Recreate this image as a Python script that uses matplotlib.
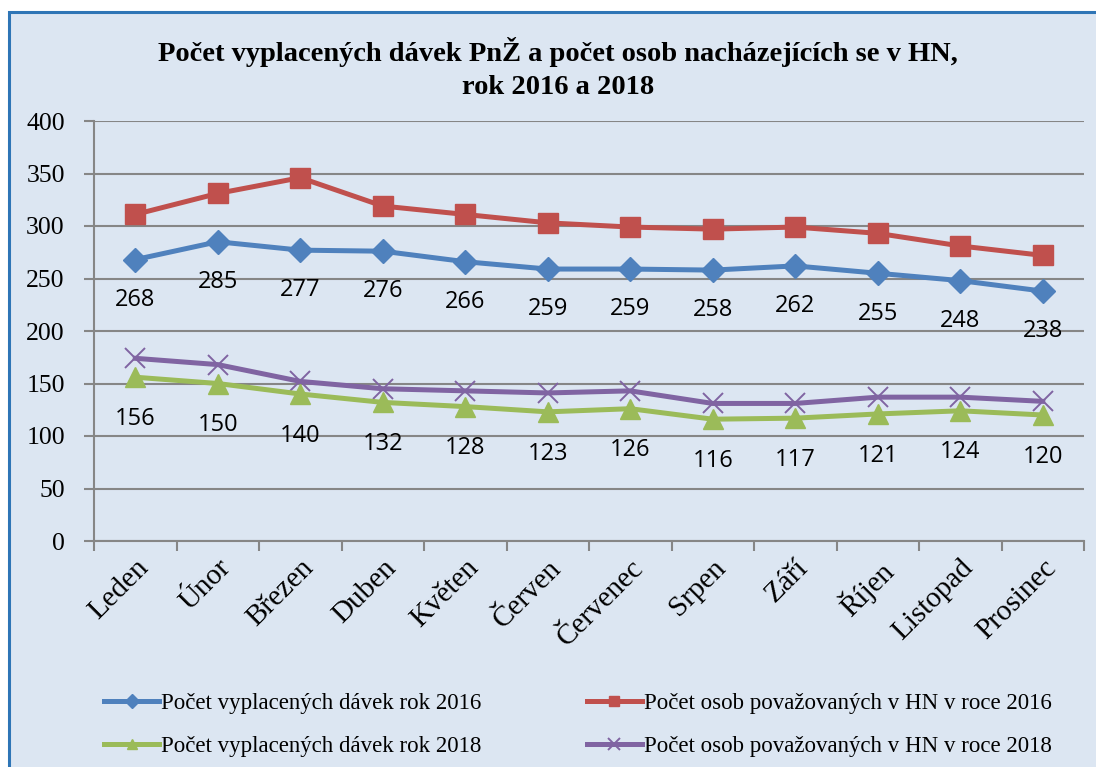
import matplotlib
matplotlib.use("Agg")
import matplotlib.pyplot as plt
from matplotlib.patches import Rectangle

months = ["Leden", "Únor", "Březen", "Duben", "Květen", "Červen", "Červenec",
          "Srpen", "Září", "Říjen", "Listopad", "Prosinec"]
davky_2016 = [268, 285, 277, 276, 266, 259, 259, 258, 262, 255, 248, 238]
osoby_2016 = [311, 331, 346, 319, 311, 303, 299, 297, 299, 293, 281, 272]
davky_2018 = [156, 150, 140, 132, 128, 123, 126, 116, 117, 121, 124, 120]
osoby_2018 = [174, 168, 152, 145, 143, 141, 143, 131, 131, 137, 137, 133]

yticks = [0, 50, 100, 150, 200, 250, 300, 350, 400]

BG = "#DCE6F2"
SERIF = ["Liberation Serif", "DejaVu Serif"]
SANS = ["Open Sans", "DejaVu Sans"]

fig = plt.figure(figsize=(10.96, 7.67), dpi=100)
fig.patch.set_facecolor("white")
bgrect = Rectangle((9 / 1096, -0.05), 1.2, 1 - 12 / 767 + 0.05,
                   transform=fig.transFigure, facecolor=BG,
                   edgecolor="#2E75B6", linewidth=2.2, zorder=-10)
fig.patches.append(bgrect)

ax = fig.add_axes([94 / 1096, 1 - 541 / 767, 990 / 1096, 420 / 767])
ax.set_facecolor("none")
ax.set_zorder(1)

x = list(range(len(months)))
ax.plot(x, osoby_2016, color="#C0504D", lw=3.6, marker="s", ms=14, zorder=3,
        label="Počet osob považovaných v HN v roce 2016")
ax.plot(x, davky_2016, color="#4F81BD", lw=3.6, marker="D", ms=12.5, zorder=3,
        label="Počet vyplacených dávek rok 2016")
ax.plot(x, osoby_2018, color="#8064A2", lw=3.6, marker="x", ms=15, mew=1.4, zorder=3,
        label="Počet osob považovaných v HN v roce 2018")
ax.plot(x, davky_2018, color="#9BBB59", lw=3.6, marker="^", ms=14, zorder=3,
        label="Počet vyplacených dávek rok 2018")

for xi, v in zip(x, davky_2016):
    ax.annotate(str(v), (xi, v), xytext=(0, -29), textcoords="offset points",
                ha="center", va="center", fontsize=17, family=SANS, zorder=4)
for xi, v in zip(x, davky_2018):
    ax.annotate(str(v), (xi, v), xytext=(0, -30), textcoords="offset points",
                ha="center", va="center", fontsize=17, family=SANS, zorder=4)

ax.set_xlim(-0.5, len(months) - 0.5)
ax.set_ylim(0, 400)
ax.set_yticks(yticks)
ax.set_yticklabels([str(t) for t in yticks], family=SERIF, fontsize=18.5)
ax.yaxis.grid(True, color="#868686", lw=1.5)
ax.set_axisbelow(True)

ax.set_xticks(x)
ax.set_xticklabels(months, family=SERIF, fontsize=21, rotation=45,
                   ha="right", rotation_mode="anchor")
ax.set_xticks([i - 0.5 for i in range(len(months) + 1)], minor=True)
ax.tick_params(axis="x", which="major", length=0, pad=10)
ax.tick_params(axis="x", which="minor", length=7, color="#868686", width=1.5)
ax.tick_params(axis="y", length=7, color="#868686", width=1.5, pad=14)

for s in ["top", "right"]:
    ax.spines[s].set_visible(False)
for s in ["left", "bottom"]:
    ax.spines[s].set_color("#868686")
    ax.spines[s].set_linewidth(1.5)

fig.text(558 / 1096, 1 - 52 / 767,
         "Počet vyplacených dávek PnŽ a počet osob nacházejících se v HN,",
         ha="center", va="center", fontsize=20.5, fontweight="bold", family=SERIF)
fig.text(558 / 1096, 1 - 88 / 767, "rok 2016 a 2018",
         ha="center", va="center", fontsize=20.5, fontweight="bold", family=SERIF)

h, l = ax.get_legend_handles_labels()
order = [1, 3, 0, 2]
leg = fig.legend([h[i] for i in order], [l[i] for i in order], ncol=2,
                 loc="center", bbox_to_anchor=(578 / 1096, 1 - 725 / 767),
                 frameon=False, prop={"family": SERIF, "size": 16.5},
                 handlelength=2.4, handletextpad=0.08, columnspacing=4.6,
                 labelspacing=0.95, markerscale=0.55)

fig.savefig("out.png", dpi=100, facecolor=fig.get_facecolor())
